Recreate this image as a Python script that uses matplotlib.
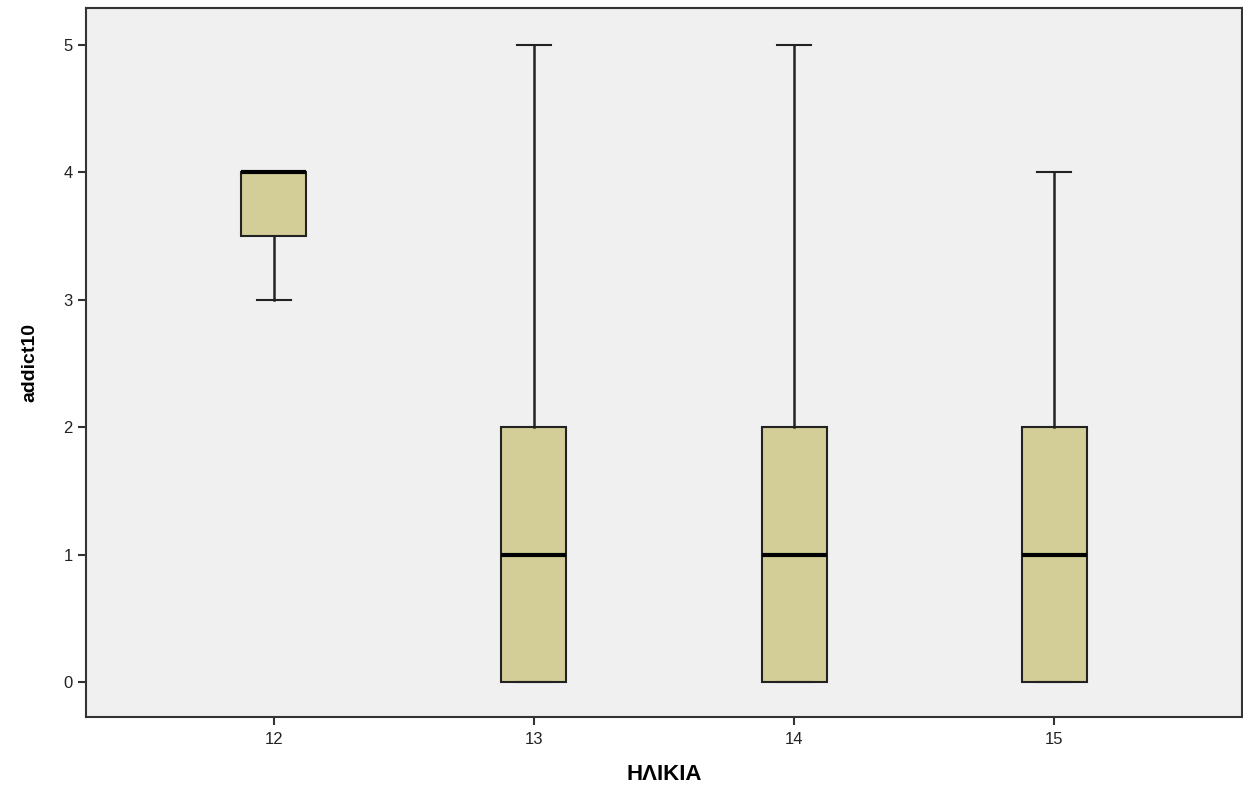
import matplotlib.pyplot as plt

# age groups and box statistics for addict10
ages = [12, 13, 14, 15]
q1 = [3.5, 0, 0, 0]
medians = [4, 1, 1, 1]
q3 = [4, 2, 2, 2]
whisker_lo = [3, 0, 0, 0]
whisker_hi = [4, 5, 5, 4]

plt.rcParams['font.family'] = ['Liberation Sans', 'DejaVu Sans']

fig = plt.figure(figsize=(12.43, 7.91), dpi=100)
ax = fig.add_axes([86 / 1243, 1 - 717 / 791, (1242 - 86) / 1243, (717 - 8) / 791])
ax.set_facecolor('#F0F0F0')

stats = []
for i in range(len(ages)):
    stats.append({'med': medians[i], 'q1': q1[i], 'q3': q3[i],
                  'whislo': whisker_lo[i], 'whishi': whisker_hi[i], 'fliers': []})

ax.bxp(stats, positions=ages, widths=0.25, patch_artist=True, showfliers=False,
       boxprops=dict(facecolor='#D3CE97', edgecolor='#222222', linewidth=1.5),
       medianprops=dict(color='black', linewidth=3),
       whiskerprops=dict(color='#222222', linewidth=1.8),
       capprops=dict(color='#222222', linewidth=1.5),
       capwidths=0.13)

ax.set_xlim(11.277, 15.723)
ax.set_ylim(-0.275, 5.29)
ax.set_xticks(ages)
ax.set_xticklabels([str(a) for a in ages])
ax.set_yticks([0, 1, 2, 3, 4, 5])

for s in ax.spines.values():
    s.set_color('#333333')
    s.set_linewidth(1.5)
ax.tick_params(axis='both', length=6, width=1.5, color='#333333', labelsize=12, labelcolor='#222222')
ax.tick_params(axis='x', pad=5)

ax.set_ylabel('addict10', fontsize=14, fontweight='bold', labelpad=18)
ax.set_xlabel('ΗΛΙΚΙΑ', fontsize=16, fontweight='bold', labelpad=12)

fig.savefig('out.png', dpi=100)
